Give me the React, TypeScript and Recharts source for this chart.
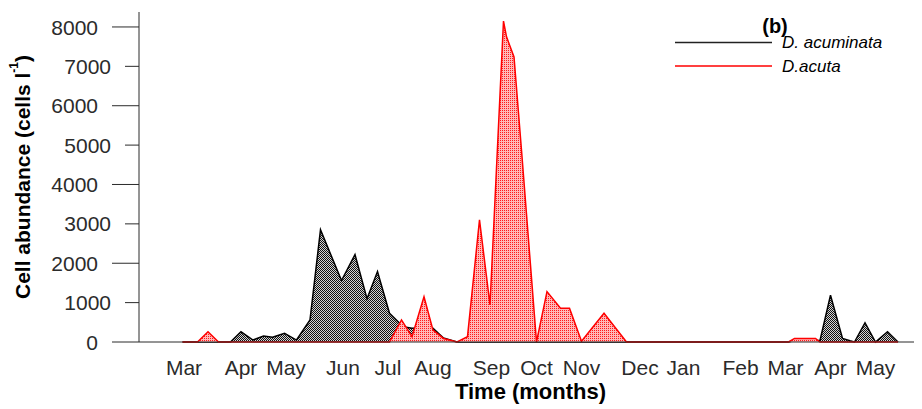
import { Area, AreaChart, XAxis, YAxis } from "recharts";

// Weekly counts of the two Dinophysis species, days counted from the
// start of the time axis (1.5 px per day in the original figure).
const ACUMINATA_DAYS = [29, 39, 61, 68, 76, 83, 89, 97, 105, 114, 121, 135, 144, 152, 159, 167, 176, 182, 189, 196, 203, 212, 433, 437, 451, 454, 461, 469, 474, 477, 484, 491, 499, 506];
const ACUMINATA_CELLS = [0, 0, 0, 260, 50, 150, 120, 220, 50, 560, 2850, 1560, 2220, 1100, 1790, 730, 390, 350, 360, 350, 100, 0, 0, 40, 40, 40, 1190, 90, 30, 0, 490, 0, 260, 0];

const ACUTA_DAYS = [29, 39, 46, 53, 167, 175, 182, 190, 196, 203, 212, 219, 227, 234, 243, 245, 250, 255, 265, 272, 281, 287, 295, 310, 325, 433, 437, 451, 454, 506];
const ACUTA_CELLS = [0, 0, 260, 0, 0, 560, 135, 1150, 300, 90, 0, 135, 3100, 940, 8150, 7750, 7240, 4870, 0, 1280, 855, 855, 20, 730, 0, 0, 90, 90, 0, 0];

const MONTH_TICKS = [30, 68, 98, 136, 166, 196, 235, 265, 295, 334, 363, 401, 431, 461, 491];
const MONTH_LABELS = ["Mar", "Apr", "May", "Jun", "Jul", "Aug", "Sep", "Oct", "Nov", "Dec", "Jan", "Feb", "Mar", "Apr", "May"];

const Y_TICKS = [0, 1000, 2000, 3000, 4000, 5000, 6000, 7000, 8000];

const FONT = "'Liberation Sans', Arial, sans-serif";
const INK = "#2b2b2b";

const acuminata = ACUMINATA_DAYS.map((t, i) => ({ t, v: ACUMINATA_CELLS[i] }));
const acuta = ACUTA_DAYS.map((t, i) => ({ t, v: ACUTA_CELLS[i] }));

// even thousands get the long tick, odd ones the short one
function YTick(props: any) {
  const { x, y, payload } = props;
  const len = payload.value % 2000 === 0 ? 27 : 14;
  return (
    <g>
      <line x1={x - len} y1={y} x2={x} y2={y} stroke={INK} strokeWidth={1} />
      <text
        x={x - len - 14}
        y={y}
        dy="0.36em"
        textAnchor="end"
        fontFamily={FONT}
        fontSize={21}
        fill={INK}
      >
        {payload.value}
      </text>
    </g>
  );
}

function yTitle(props: any) {
  const vb = props?.viewBox ?? { x: 0, y: 4, width: 131, height: 330 };
  const cx = 14;
  const cy = vb.y + vb.height / 2;
  return (
    <text
      x={cx}
      y={cy}
      transform={`rotate(-90 ${cx} ${cy})`}
      textAnchor="middle"
      dominantBaseline="central"
      fontFamily={FONT}
      fontWeight="bold"
      fontSize={21}
      fill="#000"
    >
      Cell abundance (cells l
      <tspan fontSize={12} dy={-8}>-1</tspan>
      <tspan dy={8}>)</tspan>
    </text>
  );
}

export default function App() {
  return (
    <div style={{ position: "relative", width: 914, height: 401 }}>
      <AreaChart
        width={914}
        height={401}
        margin={{ top: 4, right: 0, left: 0, bottom: 27 }}
      >
        <defs>
          <pattern id="dots-black" x={0} y={0} width={2} height={2} patternUnits="userSpaceOnUse">
            <rect width={2} height={2} fill="#d4d4d4" shapeRendering="crispEdges" />
            <rect width={1} height={1} fill="#111" shapeRendering="crispEdges" />
            <rect x={1} y={1} width={1} height={1} fill="#111" shapeRendering="crispEdges" />
          </pattern>
          <pattern id="dots-red" x={0} y={0} width={2} height={2} patternUnits="userSpaceOnUse">
            <rect width={2} height={2} fill="#ffb8b8" shapeRendering="crispEdges" />
            <rect width={1} height={1} fill="#ff1a1a" shapeRendering="crispEdges" />
          </pattern>
        </defs>
        <XAxis
          dataKey="t"
          type="number"
          domain={[0, 522]}
          ticks={MONTH_TICKS}
          interval={0}
          tickFormatter={(_v: number, i: number) => MONTH_LABELS[i]}
          tick={{ fontSize: 21, fill: INK, fontFamily: FONT }}
          tickLine={false}
          tickSize={0}
          tickMargin={18}
          axisLine={{ stroke: INK, strokeWidth: 1 }}
          height={40}
          allowDuplicatedCategory={false}
          label={{
            value: "Time (months)",
            position: "bottom",
            offset: 1,
            fontFamily: FONT,
            fontWeight: "bold",
            fontSize: 22,
            fill: "#000",
          }}
        />
        <YAxis
          type="number"
          domain={[0, 8380]}
          ticks={Y_TICKS}
          interval={0}
          width={131}
          tickLine={false}
          tickSize={0}
          tickMargin={0}
          tick={YTick}
          axisLine={{ stroke: INK, strokeWidth: 1 }}
          label={yTitle}
        />
        <Area
          data={acuminata}
          dataKey="v"
          type="linear"
          name="D. acuminata"
          stroke="#000"
          strokeWidth={1.5}
          fill="url(#dots-black)"
          fillOpacity={1}
          dot={false}
          activeDot={false}
          isAnimationActive={false}
        />
        <Area
          data={acuta}
          dataKey="v"
          type="linear"
          name="D.acuta"
          stroke="#ff0000"
          strokeWidth={1.5}
          fill="url(#dots-red)"
          fillOpacity={1}
          dot={false}
          activeDot={false}
          isAnimationActive={false}
        />
      </AreaChart>
      <svg
        width={914}
        height={401}
        style={{ position: "absolute", left: 0, top: 0, pointerEvents: "none" }}
      >
        <text x={767} y={25} textAnchor="middle" fontFamily={FONT} fontWeight="bold" fontSize={20} fill="#000">
          (b)
        </text>
        <line x1={667} y1={34.5} x2={764} y2={34.5} stroke="#222" strokeWidth={1.5} />
        <text x={774} y={40} fontFamily={FONT} fontStyle="italic" fontSize={17} fill="#000">
          D. acuminata
        </text>
        <line x1={667} y1={58} x2={764} y2={58} stroke="#ff0000" strokeWidth={1.5} />
        <text x={774} y={64} fontFamily={FONT} fontStyle="italic" fontSize={17} fill="#000">
          D.acuta
        </text>
      </svg>
    </div>
  );
}
